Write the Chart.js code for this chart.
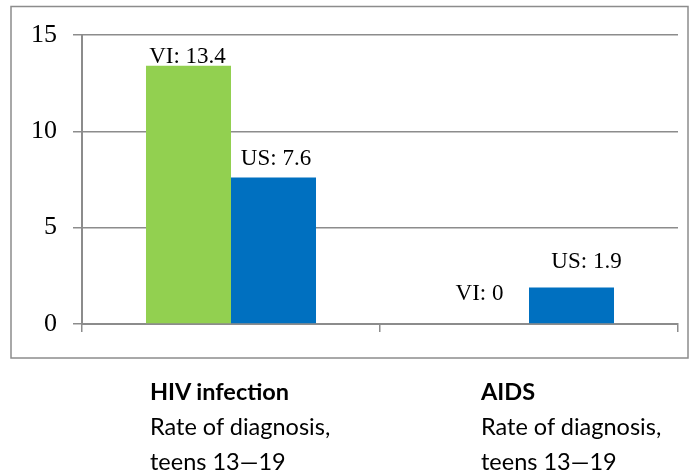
<!DOCTYPE html>
<html>
<head>
<meta charset="utf-8">
<script src="https://cdn.jsdelivr.net/npm/chart.js@4/dist/chart.umd.min.js"></script>
<style>
  html, body { margin: 0; padding: 0; background: #fff; overflow: hidden; }
  #wrap { position: relative; width: 692px; height: 473px; }
  canvas { position: absolute; left: 0; top: 0; }
  .cat { position: absolute; font-family: Lato, "Liberation Sans", sans-serif; font-size: 23.5px; line-height: 35px; color: #000; white-space: nowrap; }
  .cat b { font-weight: 700; }
</style>
</head>
<body>
<div id="wrap">
  <canvas id="c" width="692" height="473"></canvas>
  <div class="cat" id="cat0" style="left:150px; top:374px;"></div>
  <div class="cat" id="cat1" style="left:481px; top:374px;"></div>
</div>
<script>
// ---- data ----
const categories = ["HIV infection", "AIDS"];
const categorySubtitle = ["Rate of diagnosis,", "teens 13\u201419"];
const seriesNames = ["VI", "US"];
const viValues = [13.4, 0];
const usValues = [7.6, 1.9];
const yTicks = [0, 5, 10, 15];

// ---- styling ----
const colors = ["#92D050", "#0070C0"];
// label nudges [dx, gapAboveBar] per dataset per category (style only)
const labelNudge = [[[-1, 3], [-7, 24]], [[2.5, 13], [15, 19]]];

categories.forEach((c, i) => {
  document.getElementById("cat" + i).innerHTML =
    "<b>" + c + "</b><br>" + categorySubtitle.join("<br>");
});

const boxPlugin = {
  id: "box",
  beforeDraw(chart) {
    const ctx = chart.ctx;
    ctx.save();
    ctx.strokeStyle = "#8c8c8c";
    ctx.lineWidth = 1.5;
    ctx.strokeRect(11, 6.5, 677, 351.5);
    ctx.restore();
  }
};

const labelPlugin = {
  id: "valLabels",
  afterDatasetsDraw(chart) {
    const ctx = chart.ctx;
    ctx.save();
    ctx.font = "23px 'Liberation Serif', serif";
    ctx.fillStyle = "#000";
    ctx.textAlign = "center";
    ctx.textBaseline = "alphabetic";
    chart.data.datasets.forEach((ds, di) => {
      const meta = chart.getDatasetMeta(di);
      meta.data.forEach((el, i) => {
        const n = labelNudge[di][i];
        ctx.fillText(ds.label + ": " + ds.data[i], el.x + n[0], el.y - n[1]);
      });
    });
    ctx.restore();
  }
};

new Chart(document.getElementById("c"), {
  type: "bar",
  data: {
    labels: categories,
    datasets: [
      { label: seriesNames[0], data: viValues, backgroundColor: colors[0], borderWidth: 0 },
      { label: seriesNames[1], data: usValues, backgroundColor: colors[1], borderWidth: 0 }
    ]
  },
  options: {
    responsive: false,
    animation: false,
    devicePixelRatio: 1,
    layout: { padding: { left: 12, right: 14, top: 35, bottom: 0 } },
    plugins: { legend: { display: false }, tooltip: { enabled: false } },
    datasets: { bar: { barPercentage: 1, categoryPercentage: 0.5705 } },
    scales: {
      x: {
        grid: { display: true, drawOnChartArea: false, drawTicks: true, tickLength: 8, color: "#8c8c8c", lineWidth: 1.5, offset: true },
        border: { display: true, color: "#8c8c8c", width: 2 },
        ticks: { display: false },
        afterFit(s) { s.height = 149; }
      },
      y: {
        min: 0, max: 15,
        afterBuildTicks(s) { s.ticks = yTicks.map(v => ({ value: v })); },
        grid: { color: "#8c8c8c", lineWidth: 1.5, tickLength: 9, drawTicks: true },
        border: { display: true, color: "#8c8c8c", width: 2 },
        ticks: { font: { family: "'Liberation Serif', serif", size: 26 }, color: "#000", padding: 16 },
        afterFit(s) { s.width = 70; }
      }
    }
  },
  plugins: [boxPlugin, labelPlugin]
});
</script>
</body>
</html>
